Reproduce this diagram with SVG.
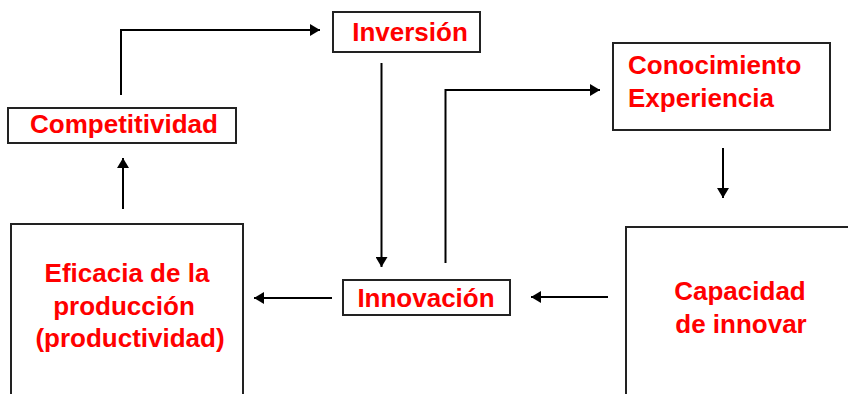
<svg xmlns="http://www.w3.org/2000/svg" width="848" height="394" viewBox="0 0 848 394">
<style>
.box{fill:#fff;stroke:#222;stroke-width:2}
.lbl{font-family:"Liberation Sans",Arial,sans-serif;font-weight:bold;font-size:26px;fill:#ff0000}
.c{fill:none;stroke:#000;stroke-width:2}
</style>
<defs>
<marker id="ah" viewBox="0 0 10 12" refX="10" refY="6" markerWidth="10" markerHeight="12" markerUnits="userSpaceOnUse" orient="auto">
<path d="M0,0 L10,6 L0,12 z" fill="#000"/>
</marker>
</defs>
<rect width="848" height="394" fill="#fff"/>
<g id="inversion">
<rect class="box" x="333" y="12" width="147" height="40"/>
<text class="lbl" x="410" y="41" text-anchor="middle">Inversión</text>
</g>
<g id="competitividad">
<rect class="box" x="8" y="108" width="228" height="35"/>
<text class="lbl" x="124" y="133" text-anchor="middle">Competitividad</text>
</g>
<g id="conocimiento">
<rect class="box" x="613" y="43" width="217" height="87"/>
<text class="lbl" x="628" y="74">Conocimiento</text>
<text class="lbl" x="628" y="107">Experiencia</text>
</g>
<g id="eficacia">
<rect class="box" x="11" y="224" width="232" height="190"/>
<text class="lbl" x="127" y="282" text-anchor="middle">Eficacia de la</text>
<text class="lbl" x="124" y="315" text-anchor="middle">producción</text>
<text class="lbl" x="130" y="347" text-anchor="middle">(productividad)</text>
</g>
<g id="innovacion">
<rect class="box" x="343" y="280" width="167" height="35"/>
<text class="lbl" x="426" y="307" text-anchor="middle">Innovación</text>
</g>
<g id="capacidad">
<rect class="box" x="626" y="227" width="240" height="190"/>
<text class="lbl" x="740" y="300" text-anchor="middle">Capacidad</text>
<text class="lbl" x="741" y="333" text-anchor="middle">de innovar</text>
</g>
<g id="connectors">
<path class="c" d="M121,95 V30 H320" marker-end="url(#ah)"/>
<path class="c" d="M123,209 V158" marker-end="url(#ah)"/>
<path class="c" d="M381.5,63 V267" marker-end="url(#ah)"/>
<path class="c" d="M445.5,263 V90 H600" marker-end="url(#ah)"/>
<path class="c" d="M723,148 V198" marker-end="url(#ah)"/>
<path class="c" d="M608,297 H531" marker-end="url(#ah)"/>
<path class="c" d="M332,298 H254" marker-end="url(#ah)"/>
</g>
</svg>
